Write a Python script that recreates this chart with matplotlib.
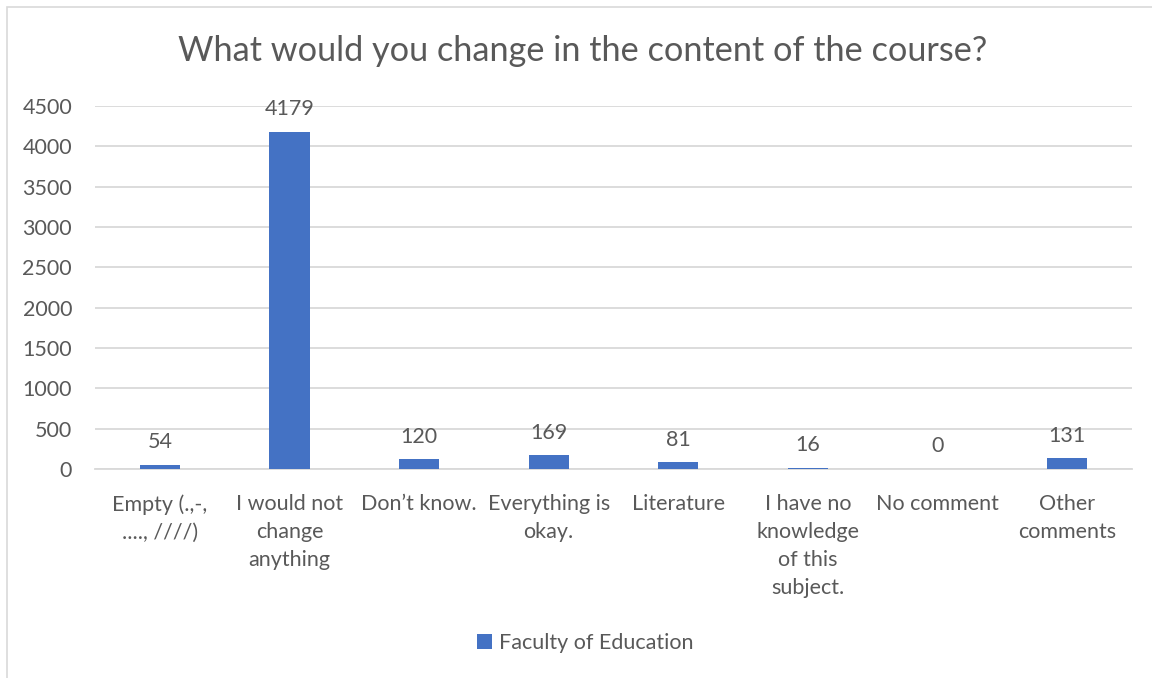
import matplotlib.pyplot as plt
import numpy as np

plt.rcParams['font.family'] = ['Lato', 'DejaVu Sans']

categories = ['Empty (.,-,\n...., ////)', 'I would not\nchange\nanything', 'Don\u2019t know.',
              'Everything is\nokay.', 'Literature', 'I have no\nknowledge\nof this\nsubject.',
              'No comment', 'Other\ncomments']
counts = [54, 4179, 120, 169, 81, 16, 0, 131]
series_name = 'Faculty of Education'

bar_color = '#4472C4'
text_color = '#595959'
grid_color = '#D9D9D9'

fig = plt.figure(figsize=(11.52, 6.78), dpi=100)
ax = fig.add_axes([95 / 1152, 1 - 469 / 678, 1037 / 1152, 363 / 678])

x = np.arange(len(categories))
bars = ax.bar(x, counts, width=0.31, color=bar_color, zorder=3)

ax.set_xlim(-0.5, len(categories) - 0.5)
ax.set_ylim(0, 4500)
ax.set_yticks(np.arange(0, 4501, 500))
ax.yaxis.grid(True, color=grid_color, linewidth=1.3, zorder=0)
ax.set_axisbelow(True)
for s in ['top', 'right', 'left']:
    ax.spines[s].set_visible(False)
ax.spines['bottom'].set_color(grid_color)
ax.spines['bottom'].set_linewidth(1.3)
ax.tick_params(axis='both', length=0, labelsize=15.5, colors=text_color)
ax.tick_params(axis='y', pad=16.5)
ax.tick_params(axis='x', pad=18)
ax.set_xticks(x)
ax.set_xticklabels(categories, linespacing=1.5)

for xi, v in zip(x, counts):
    ax.annotate(str(v), (xi, v), xytext=(0, 9), textcoords='offset points',
                ha='center', va='bottom', fontsize=15.5, color=text_color)

fig.text(583 / 1152, 1 - 51 / 678, 'What would you change in the content of the course?',
         ha='center', va='center', fontsize=24.7, color=text_color)

leg = fig.legend([bars], [series_name], loc='center', bbox_to_anchor=(585 / 1152, 1 - 643 / 678),
                 frameon=False, fontsize=15.5, handlelength=0.7, handleheight=0.7,
                 handletextpad=0.3)
for t in leg.get_texts():
    t.set_color(text_color)

# outer chart border
fig.add_artist(plt.Rectangle((7 / 1152, -0.01), 1.1, 1 - 7 / 678 + 0.01,
                             transform=fig.transFigure, fill=False,
                             edgecolor='#D9D9D9', linewidth=1.2))

fig.savefig('out.png', dpi=100)
